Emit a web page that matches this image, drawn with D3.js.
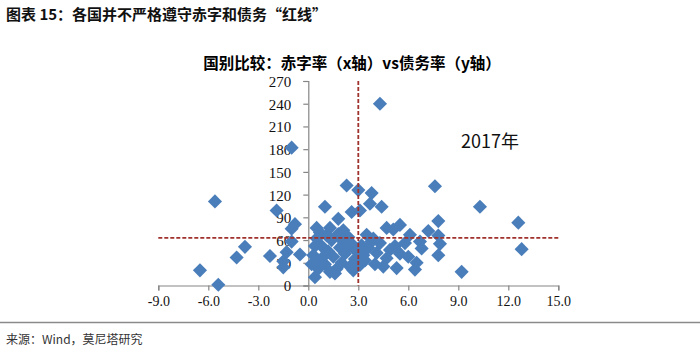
<!DOCTYPE html>
<html>
<head>
<meta charset="utf-8">
<script src="https://cdn.jsdelivr.net/npm/d3@7"></script>
<style>
  html, body { margin: 0; padding: 0; background: #fff; }
  svg { display: block; }
</style>
</head>
<body>
<svg id="chart" width="700" height="349"></svg>
<script>
// Deficit ratio (x, %) and debt ratio (y, %) by country, 2017
const deficit = [
  4.3, -1.0, -5.6, -6.5, -5.4, -4.3, -3.8, -2.3, -1.9, -0.8,
  -1.0, -1.3, -0.5, -1.5, -1.5, -1.0, 0.4,
  1.0, 2.3, 3.0, 3.8, 3.7, 4.4, 2.6, 3.1, 1.8, 1.3, 2.1, 0.7,
  7.6, 10.3, 12.6, 12.8, 9.2, 7.8, 7.2, 7.8, 7.9, 7.8, 6.7, 6.8, 6.1, 5.8,
  5.5, 5.1, 4.7, 5.3, 6.4, 6.5, 3.5, 4.9, 4.3, 4.1, 4.7, 2.5, 3.1, 1.6,
  0.5, 0.8, 1.2, 0.3, 0.6, 1.0, 1.5, 1.9, 2.2, 2.6, 2.8, 1.4, 0.4, 2.0,
  1.7, 2.4, 0.9, 1.3, 2.9, 3.3, 3.6, 3.4, 3.8, 4.0, 3.9, 5.5, 5.2, 6.0,
  1.1, 2.1, 0.2, 0.6, 2.7, 4.5, 1.8, 0.5, 3.2, 2.3
];
const debt = [
  240, 182, 111, 20, 1, 37, 51, 39, 99, 81,
  58, 44, 41, 24, 32, 75, 11,
  104, 132, 126, 122, 108, 104, 97, 99, 88, 76, 73, 70,
  131, 104, 83, 48, 18, 85, 72, 66, 55, 40, 58, 49, 67, 56,
  80, 74, 76, 23, 21, 30, 67, 47, 56, 43, 36, 25, 27, 16,
  62, 52, 45, 40, 33, 28, 38, 50, 42, 55, 35, 60, 52, 30,
  22, 64, 38, 18, 45, 40, 50, 33, 58, 28, 62, 42, 52, 38,
  66, 58, 28, 22, 20, 25, 68, 76, 53, 48
];
const xTicks = [-9, -6, -3, 0, 3, 6, 9, 12, 15];
const yTicks = [0, 30, 60, 90, 120, 150, 180, 210, 240, 270];
const deficitLine = 3;   // 3% deficit threshold
const debtLine = 63;     // debt threshold as plotted
const chartTitle = "国别比较：赤字率（x轴）vs债务率（y轴）";
const figureTitle = "图表 15：各国并不严格遵守赤字和债务“红线”";
const yearLabel = "2017年";
const sourceText = "来源：Wind，莫尼塔研究";

const points = deficit.map((d, i) => ({ x: d, y: debt[i] }));

const svg = d3.select("#chart");

const x = d3.scaleLinear().domain([-9, 15]).range([158.3, 558.3]);
const y = d3.scaleLinear().domain([0, 270]).range([285.5, 81]);

const serif = "'Liberation Serif', 'DejaVu Serif', serif";
const cjk = "'Noto Sans CJK SC', sans-serif";

// Figure heading
svg.append("text")
  .attr("x", 6).attr("y", 20)
  .attr("font-family", "'Noto Sans CJK SC', serif")
  .attr("font-weight", "bold")
  .attr("font-size", 15)
  .attr("fill", "#111")
  .text(figureTitle);

// Chart title
svg.append("text")
  .attr("x", 352).attr("y", 69)
  .attr("text-anchor", "middle")
  .attr("font-family", cjk)
  .attr("font-weight", "bold")
  .attr("font-size", 15.5)
  .attr("fill", "#000")
  .text(chartTitle);

// Axes
const axisColor = "#868686";
const xAxis = svg.append("g")
  .attr("transform", `translate(0,${y(0)})`)
  .call(d3.axisBottom(x).tickValues(xTicks).tickSize(5).tickPadding(6)
    .tickFormat(d3.format(".1f")));
xAxis.select(".domain").attr("stroke", axisColor).attr("stroke-width", 1.2);
xAxis.selectAll(".tick line").attr("stroke", axisColor).attr("stroke-width", 1.2);
xAxis.selectAll(".tick text")
  .attr("font-family", serif).attr("font-size", 14).attr("fill", "#111")
  .text(d => d < 0 ? "-" + Math.abs(d).toFixed(1) : d.toFixed(1));

const yAxis = svg.append("g")
  .attr("transform", `translate(${x(0)},0)`)
  .call(d3.axisLeft(y).tickValues(yTicks).tickSize(5).tickPadding(12));
yAxis.select(".domain").attr("stroke", axisColor).attr("stroke-width", 1.2);
yAxis.selectAll(".tick line").attr("stroke", axisColor).attr("stroke-width", 1.2);
yAxis.selectAll(".tick text")
  .attr("font-family", serif).attr("font-size", 15).attr("fill", "#111")
  .attr("dy", "0.36em");

// Scatter markers (diamonds)
const diamond = d3.symbol().type(d3.symbolSquare).size(100);
svg.append("g").selectAll("path")
  .data(points)
  .join("path")
  .attr("d", diamond)
  .attr("transform", d => `translate(${x(d.x)},${y(d.y)}) rotate(45)`)
  .attr("fill", "#4A7EBB");

// Threshold lines
const red = "#A0322E";
svg.append("line")
  .attr("x1", x(-9)).attr("x2", x(15))
  .attr("y1", y(debtLine)).attr("y2", y(debtLine))
  .attr("stroke", red).attr("stroke-width", 1.8)
  .attr("stroke-dasharray", "4,2");
svg.append("line")
  .attr("x1", x(deficitLine)).attr("x2", x(deficitLine))
  .attr("y1", y(270)).attr("y2", y(0))
  .attr("stroke", red).attr("stroke-width", 1.8)
  .attr("stroke-dasharray", "4,2");

// Year label
svg.append("text")
  .attr("x", 490).attr("y", 148)
  .attr("text-anchor", "middle")
  .attr("font-family", "'Noto Sans CJK SC', 'Lato', sans-serif")
  .attr("font-size", 18)
  .attr("fill", "#111")
  .text(yearLabel);

// Footer rule and source
svg.append("line")
  .attr("x1", 0).attr("x2", 700)
  .attr("y1", 322.5).attr("y2", 322.5)
  .attr("stroke", "#8a8a8a").attr("stroke-width", 1.5);
svg.append("text")
  .attr("x", 6).attr("y", 344)
  .attr("font-family", "'Noto Sans CJK SC', serif")
  .attr("font-size", 12)
  .attr("fill", "#333")
  .text(sourceText);
</script>
</body>
</html>
